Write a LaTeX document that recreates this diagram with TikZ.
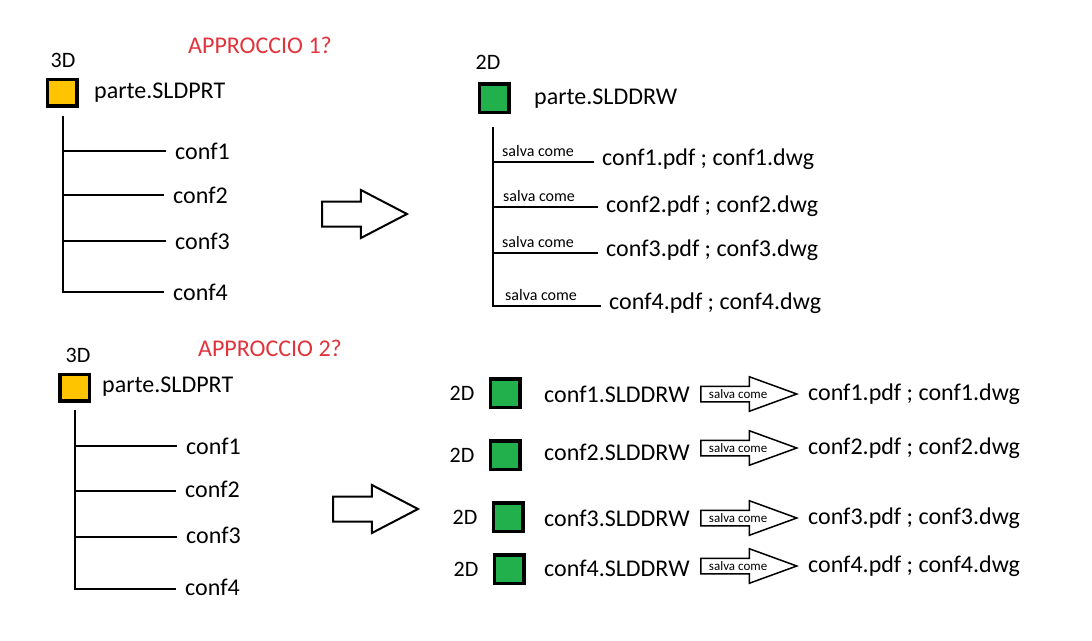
\documentclass[tikz,border=0pt]{standalone}
\usepackage{fontspec}
\setmainfont{Carlito}
\usetikzlibrary{shapes.arrows, positioning}
\definecolor{titlered}{RGB}{224,52,60}
\definecolor{partyellow}{RGB}{255,196,0}
\definecolor{drwgreen}{RGB}{34,176,76}

\tikzset{
  txt/.style={inner sep=0pt, anchor=west, font=\fontsize{24}{28}\selectfont},
  dimtxt/.style={inner sep=0pt, font=\fontsize{22}{26}\selectfont},
  apptitle/.style={inner sep=0pt, text=titlered, font=\fontsize{24}{28}\selectfont},
  partbox/.style={draw, line width=3.5pt, fill=partyellow, minimum width=29.5pt, minimum height=26.5pt, inner sep=0pt},
  drwbox/.style={draw, line width=3.5pt, fill=drwgreen, minimum width=29.5pt, minimum height=28.5pt, inner sep=0pt},
  tree/.style={line width=2.2pt, line cap=rect},
  savetxt/.style={inner sep=0pt, anchor=base west, font=\fontsize{16}{18}\selectfont},
  bigarrow/.style={draw, line width=2pt, single arrow, single arrow tip angle=55,
    single arrow head extend=11.5pt, minimum height=85pt, inner xsep=0pt, inner ysep=11.5pt,
    text height=0pt, text depth=0pt},
  savearrow/.style={draw, line width=1.5pt, single arrow, single arrow tip angle=40,
    single arrow head extend=9.5pt, minimum height=96pt, inner xsep=4pt, inner ysep=3pt,
    text height=8pt, text depth=0pt, font=\fontsize{13}{15}\selectfont}
}

\begin{document}
\begin{tikzpicture}[x=1pt, y=-1pt]
  \useasboundingbox (0,0) rectangle (1092,640);
  % Approccio 1: part and its configurations
  \node[apptitle] (titA) at (260,45) {APPROCCIO 1?};
  \node[dimtxt] (dimA) at (63,60) {3D};
  \node[partbox] (prtA) at (62,92.5) {};
  \node[txt] (nameA) at (94,93) {parte.SLDPRT};
  \coordinate (trA) at (63,117);
  \foreach \i/\y/\x in {1/151/175, 2/195/173, 3/241/175, 4/292/173} {
    \coordinate (bA\i) at (63,\y);
    \node[txt] (cA\i) at (\x,\y) {conf\i};
    \draw[tree, shorten >=10pt] (bA\i) -- (cA\i.west);
  }
  \draw[tree] (trA) -- (bA4);
  \node[bigarrow, anchor=tail] (arrA) at (321,214) {};
  % Approccio 1: one drawing, saved per configuration
  \node[dimtxt] (dimB) at (488,62) {2D};
  \node[drwbox] (drwB) at (494,98) {};
  \node[txt] (nameB) at (534,99) {parte.SLDDRW};
  \coordinate (trB) at (493,128);
  \foreach \i/\y/\ly/\x/\sx in {1/162/159/602/502, 2/207/206/606/503, 3/253/250/606/502, 4/306/303/609/505} {
    \coordinate (bB\i) at (493,\y);
    \node[txt] (pB\i) at (\x,\ly) {conf\i.pdf ; conf\i.dwg};
    \draw[tree, shorten >=9pt] (bB\i) -- (bB\i -| pB\i.west);
    \node[savetxt] (sB\i) at (\sx,\y-6) {salva come};
  }
  \draw[tree] (trB) -- (bB4);
  % Approccio 2: part and its configurations
  \node[apptitle] (titC) at (270,348) {APPROCCIO 2?};
  \node[dimtxt] (dimC) at (78,355) {3D};
  \node[partbox] (prtC) at (74.5,387.5) {};
  \node[txt] (nameC) at (102,387) {parte.SLDPRT};
  \coordinate (trC) at (75,411);
  \foreach \i/\y/\ly/\x in {1/446/446/186, 2/491/489/185, 3/537/535/186, 4/589/587/185} {
    \coordinate (bC\i) at (75,\y);
    \node[txt] (cC\i) at (\x,\ly) {conf\i};
    \draw[tree, shorten >=10pt] (bC\i) -- (bC\i -| cC\i.west);
  }
  \draw[tree] (trC) -- (bC4);
  \node[bigarrow, anchor=tail] (arrC) at (332,509) {};
  % Approccio 2: one drawing per configuration
  \foreach \i/\ya/\xs/\yb/\yc in {1/393/505/394/394, 2/455/505/452/448, 3/517/508/518/518, 4/569/509/568/566} {
    \node[drwbox] (drwD\i) at (\xs,\ya) {};
    \node[dimtxt, left=14pt of drwD\i] (dimD\i) {2D};
    \node[txt] (nameD\i) at (544,\yb) {conf\i.SLDDRW};
    \node[savearrow, anchor=tail] (svD\i) at (700,\yc) {salva come};
    \node[txt, right=9pt of svD\i.tip] (pD\i) {conf\i.pdf ; conf\i.dwg};
  }
\end{tikzpicture}
\end{document}
